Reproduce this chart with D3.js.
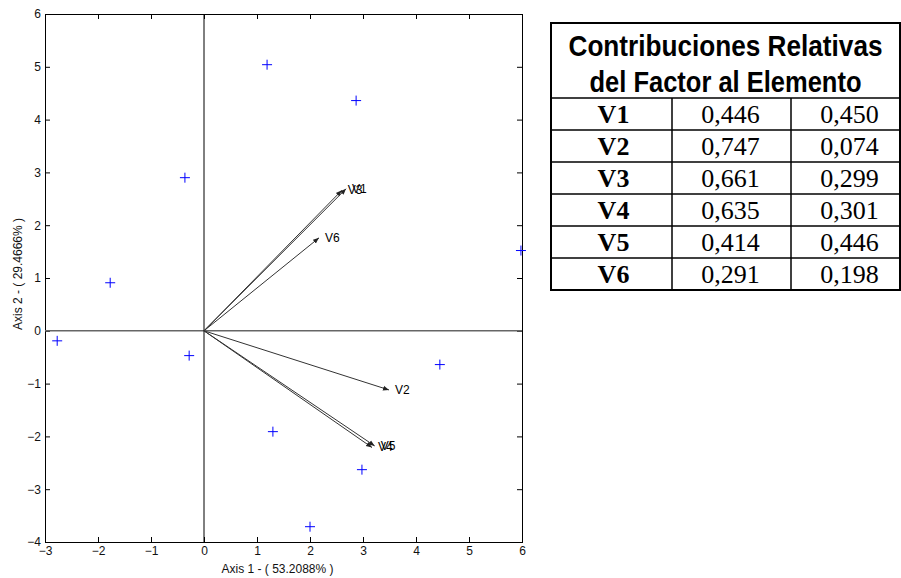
<!DOCTYPE html>
<html>
<head>
<meta charset="utf-8">
<script src="https://cdn.jsdelivr.net/npm/d3@7"></script>
<style>
  body { margin: 0; background: #fff; }
  svg { display: block; }
</style>
</head>
<body>
<svg id="chart" width="901" height="578"></svg>
<script>
// observaciones (cruces azules)
const pointX = [1.19, 2.87, -0.36, -1.77, -2.77, -0.28, 5.98, 4.45, 1.30, 2.98, 2.00];
const pointY = [5.04, 4.36, 2.90, 0.91, -0.19, -0.47, 1.52, -0.64, -1.91, -2.63, -3.71];

// variables (flechas)
const varNames = ['V1', 'V2', 'V3', 'V4', 'V5', 'V6'];
const varX = [2.68, 3.49, 2.60, 3.17, 3.22, 2.17];
const varY = [2.69, -1.12, 2.66, -2.21, -2.18, 1.76];

const xTicks = [-3, -2, -1, 0, 1, 2, 3, 4, 5, 6];
const yTicks = [-4, -3, -2, -1, 0, 1, 2, 3, 4, 5, 6];
const xLabel = 'Axis 1 - ( 53.2088% )';
const yLabel = 'Axis 2 - ( 29.4666% )';

// tabla
const tableTitle = ['Contribuciones Relativas', 'del Factor al Elemento'];
const tableRows = ['V1', 'V2', 'V3', 'V4', 'V5', 'V6'];
const tableCol1 = ['0,446', '0,747', '0,661', '0,635', '0,414', '0,291'];
const tableCol2 = ['0,450', '0,074', '0,299', '0,301', '0,446', '0,198'];

const svg = d3.select('#chart');

const plot = { left: 45, right: 522, top: 14, bottom: 542 };

const x = d3.scaleLinear().domain([-3, 6]).range([plot.left, plot.right]);
const y = d3.scaleLinear().domain([-4, 6]).range([plot.bottom, plot.top]);

const font = '"Liberation Sans", Arial, Helvetica, sans-serif';

// Ejes con marcas hacia dentro en los cuatro lados
function styleAxis(g) {
    g.selectAll('path.domain').attr('stroke', '#000').attr('stroke-width', 1);
    g.selectAll('.tick line').attr('stroke', '#000');
    g.selectAll('.tick text').attr('font-family', font).attr('font-size', 12).attr('fill', '#111');
}

svg.append('g')
   .attr('transform', `translate(0,${plot.bottom})`)
   .call(d3.axisBottom(x).tickValues(xTicks).tickSizeInner(-5).tickSizeOuter(0).tickPadding(4))
   .call(styleAxis);

svg.append('g')
   .attr('transform', `translate(0,${plot.top})`)
   .call(d3.axisTop(x).tickValues(xTicks).tickSizeInner(-5).tickSizeOuter(0).tickFormat(''))
   .call(styleAxis);

svg.append('g')
   .attr('transform', `translate(${plot.left},0)`)
   .call(d3.axisLeft(y).tickValues(yTicks).tickSizeInner(-5).tickSizeOuter(0).tickPadding(4))
   .call(styleAxis);

svg.append('g')
   .attr('transform', `translate(${plot.right},0)`)
   .call(d3.axisRight(y).tickValues(yTicks).tickSizeInner(-5).tickSizeOuter(0).tickFormat(''))
   .call(styleAxis);

svg.selectAll('.domain').attr('shape-rendering', 'crispEdges');

// Líneas por el origen
svg.append('line')
   .attr('x1', plot.left).attr('x2', plot.right)
   .attr('y1', y(0)).attr('y2', y(0))
   .attr('stroke', '#666').attr('stroke-width', 1.5);

svg.append('line')
   .attr('x1', x(0)).attr('x2', x(0))
   .attr('y1', plot.top).attr('y2', plot.bottom)
   .attr('stroke', '#000').attr('stroke-width', 1);

// Flechas
svg.append('defs').append('marker')
   .attr('id', 'head')
   .attr('viewBox', '0 0 10 10')
   .attr('refX', 10).attr('refY', 5)
   .attr('markerWidth', 6).attr('markerHeight', 6)
   .attr('markerUnits', 'userSpaceOnUse')
   .attr('orient', 'auto')
   .append('path')
   .attr('d', 'M0,1 L10,5 L0,9 Z')
   .attr('fill', '#222');

const vars = varNames.map((name, i) => ({ name: name, vx: varX[i], vy: varY[i] }));

svg.append('g').selectAll('line')
   .data(vars)
   .join('line')
   .attr('x1', x(0)).attr('y1', y(0))
   .attr('x2', d => x(d.vx)).attr('y2', d => y(d.vy))
   .attr('stroke', '#333').attr('stroke-width', 1)
   .attr('marker-end', 'url(#head)');

svg.append('g').selectAll('text')
   .data(vars)
   .join('text')
   .attr('x', d => x(d.vx) + 6)
   .attr('y', d => y(d.vy) + 4)
   .attr('font-family', font).attr('font-size', 12)
   .attr('fill', '#000')
   .text(d => d.name);

// Cruces
const points = pointX.map((px, i) => ({ px: px, py: pointY[i] }));
const cross = 5;

svg.append('g').selectAll('path')
   .data(points)
   .join('path')
   .attr('d', d => {
       const cx = x(d.px), cy = y(d.py);
       return `M${cx - cross},${cy}H${cx + cross}M${cx},${cy - cross}V${cy + cross}`;
   })
   .attr('stroke', '#0000ff').attr('stroke-width', 1)
   .attr('fill', 'none');

// Etiquetas de ejes
svg.append('text')
   .attr('x', (plot.left + plot.right) / 2 - 6)
   .attr('y', 573)
   .attr('text-anchor', 'middle')
   .attr('font-family', font).attr('font-size', 12)
   .attr('fill', '#111')
   .text(xLabel);

svg.append('text')
   .attr('transform', `translate(22,${(plot.top + plot.bottom) / 2 - 4}) rotate(-90)`)
   .attr('text-anchor', 'middle')
   .attr('font-family', font).attr('font-size', 12)
   .attr('fill', '#111')
   .text(yLabel);

// Tabla
const table = { left: 551, right: 900, top: 23, headBottom: 98, rowH: 32 };
const colX = [551, 672, 791, 900];
const tableBottom = table.headBottom + table.rowH * tableRows.length;

const tg = svg.append('g');

tg.append('rect')
  .attr('x', table.left).attr('y', table.top)
  .attr('width', table.right - table.left)
  .attr('height', tableBottom - table.top)
  .attr('fill', 'none').attr('stroke', '#000').attr('stroke-width', 2);

tableRows.forEach((r, i) => {
    tg.append('line')
      .attr('x1', table.left).attr('x2', table.right)
      .attr('y1', table.headBottom + i * table.rowH)
      .attr('y2', table.headBottom + i * table.rowH)
      .attr('stroke', '#000').attr('stroke-width', 1.5);
});

[colX[1], colX[2]].forEach(cx => {
    tg.append('line')
      .attr('x1', cx).attr('x2', cx)
      .attr('y1', table.headBottom).attr('y2', tableBottom)
      .attr('stroke', '#000').attr('stroke-width', 1.5);
});

const titleWidths = [314, 272];
tableTitle.forEach((t, i) => {
    tg.append('text')
      .attr('x', (table.left + table.right) / 2)
      .attr('y', 56 + i * 36)
      .attr('text-anchor', 'middle')
      .attr('font-family', '"Liberation Sans Narrow", "Liberation Sans", Arial, sans-serif')
      .attr('font-weight', 'bold').attr('font-size', 30)
      .attr('textLength', titleWidths[i])
      .attr('lengthAdjust', 'spacingAndGlyphs')
      .attr('fill', '#000')
      .text(t);
});

const serif = '"Liberation Serif", "Times New Roman", serif';
tableRows.forEach((r, i) => {
    const by = table.headBottom + i * table.rowH + 25;
    tg.append('text')
      .attr('x', (colX[0] + colX[1]) / 2 + 2).attr('y', by)
      .attr('text-anchor', 'middle')
      .attr('font-family', serif).attr('font-weight', 'bold').attr('font-size', 26)
      .text(r);
    tg.append('text')
      .attr('x', (colX[1] + colX[2]) / 2 - 1).attr('y', by)
      .attr('text-anchor', 'middle')
      .attr('font-family', serif).attr('font-size', 26)
      .text(tableCol1[i]);
    tg.append('text')
      .attr('x', (colX[2] + colX[3]) / 2 + 4).attr('y', by)
      .attr('text-anchor', 'middle')
      .attr('font-family', serif).attr('font-size', 26)
      .text(tableCol2[i]);
});
</script>
</body>
</html>
